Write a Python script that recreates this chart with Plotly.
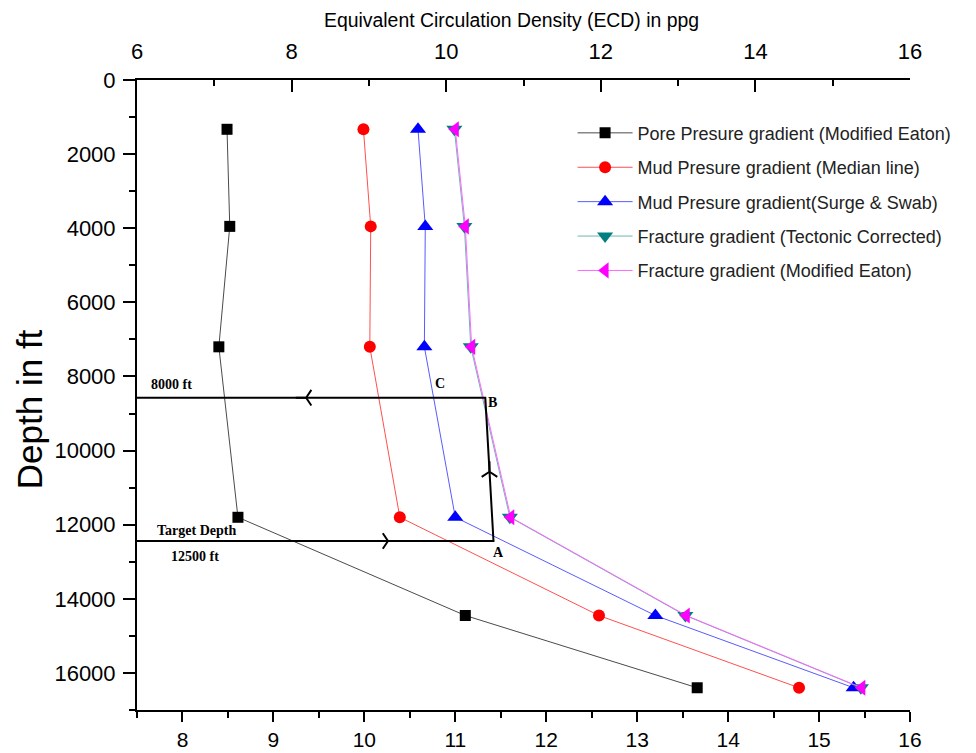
import plotly.graph_objects as go

# ---------------- data ----------------
depth_ft = [1330, 3950, 7200, 11800, 14450, 16400]
pore_modified_eaton = [8.49, 8.52, 8.40, 8.61, 11.11, 13.66]
mud_median_line = [9.99, 10.07, 10.06, 10.39, 12.58, 14.78]
mud_surge_swab = [10.59, 10.67, 10.66, 11.00, 13.20, 15.38]
frac_tectonic = [10.99, 11.10, 11.17, 11.60, 13.53, 15.46]
frac_modified_eaton = [11.00, 11.11, 11.18, 11.61, 13.54, 15.47]

series_names = [
    "Pore Presure gradient (Modified Eaton)",
    "Mud Presure gradient (Median line)",
    "Mud Presure gradient(Surge & Swab)",
    "Fracture gradient (Tectonic Corrected)",
    "Fracture gradient (Modified Eaton)",
]

# casing-design route A-B (drawn in ECD / depth units)
route_ppg = [7.5, 11.42, 11.33, 7.5]
route_depth = [12440, 12440, 8573, 8573]
route_arrow_ppg = [10.26, 11.376, 9.36]
route_arrow_depth = [12440, 10570, 8573]

bottom_ticks = [8, 9, 10, 11, 12, 13, 14, 15, 16]
top_ticks = [6, 8, 10, 12, 14, 16]
depth_ticks = [0, 2000, 4000, 6000, 8000, 10000, 12000, 14000, 16000]

# ---------------- figure ----------------
fig = go.Figure()

styles = [
    dict(symbol="square", mcolor="#000000", lcolor="#4a4a4a", size=11),
    dict(symbol="circle", mcolor="#ff0000", lcolor="#ff5050", size=12),
    dict(symbol="triangle-up", mcolor="#0000ff", lcolor="#5a5aff", size=14),
    dict(symbol="triangle-down", mcolor="#008080", lcolor="#6fb5b5", size=14),
    dict(symbol="triangle-left", mcolor="#ff00ff", lcolor="#ff66ff", size=14),
]
values = [pore_modified_eaton, mud_median_line, mud_surge_swab,
          frac_tectonic, frac_modified_eaton]

for i, (name, vals, st) in enumerate(zip(series_names, values, styles)):
    fig.add_trace(go.Scatter(
        x=vals, y=depth_ft, name=name, mode="lines+markers",
        line=dict(color=st["lcolor"], width=1),
        marker=dict(symbol=st["symbol"], color=st["mcolor"], size=st["size"],
                    line=dict(width=0)),
        legendgroup=f"g{i}",
        xaxis="x", yaxis="y",
    ))

# route lines
fig.add_trace(go.Scatter(
    x=route_ppg, y=route_depth, mode="lines",
    line=dict(color="black", width=2), showlegend=False, hoverinfo="skip",
))
fig.add_trace(go.Scatter(
    x=route_arrow_ppg, y=route_arrow_depth, mode="markers",
    marker=dict(symbol=["y-right", "y-up", "y-left"], size=13,
                color="black", line=dict(color="black", width=2)),
    showlegend=False, hoverinfo="skip",
))

# dummy trace to carry the top axis
fig.add_trace(go.Scatter(
    x=[top_ticks[0], top_ticks[-1]], y=[depth_ticks[0], depth_ticks[0]],
    xaxis="x2", yaxis="y", mode="markers", marker=dict(opacity=0),
    showlegend=False, hoverinfo="skip",
))

serif = dict(family="Liberation Serif, Times New Roman, serif", size=14, color="black")
ann = [
    dict(x=route_ppg[0], y=route_depth[3], text="<b>8000 ft</b>", xanchor="left",
         yanchor="bottom", xshift=12, yshift=4),
    dict(x=route_ppg[0], y=route_depth[0], text="<b>Target Depth</b>", xanchor="left",
         yanchor="bottom", xshift=18, yshift=1),
    dict(x=route_ppg[0], y=route_depth[0], text="<b>12500 ft</b>", xanchor="left",
         yanchor="top", xshift=32, yshift=-6),
    dict(x=route_ppg[1], y=route_depth[1], text="<b>A</b>", xanchor="center",
         yanchor="top", xshift=5, yshift=-2),
    dict(x=route_ppg[2], y=route_depth[2], text="<b>B</b>", xanchor="left",
         yanchor="middle", xshift=1, yshift=-5),
    dict(x=route_ppg[2], y=route_depth[2], text="<b>C</b>", xanchor="center",
         yanchor="bottom", xshift=-45, yshift=5),
]
annotations = []
for a in ann:
    a.update(xref="x", yref="y", showarrow=False, font=serif)
    annotations.append(a)

annotations.append(dict(
    xref="paper", yref="paper", x=0.485, y=1, yshift=60, yanchor="middle",
    text="Equivalent Circulation Density (ECD) in ppg", showarrow=False,
    font=dict(size=19.4, color="black"),
))
annotations.append(dict(
    xref="paper", yref="paper", x=-0.138, y=0.478, textangle=-90,
    xanchor="center", yanchor="middle",
    text="Depth in ft", showarrow=False, font=dict(size=35, color="black"),
))

axis_common = dict(showline=True, linecolor="black", linewidth=2, showgrid=False,
                   zeroline=False, tickcolor="black", tickwidth=2,
                   tickfont=dict(size=22, color="black"))

# page body has an 8 px margin, so the figure is drawn 8 px smaller
fig.update_layout(
    width=968, height=745,
    margin=dict(l=129, r=66, t=72, b=43, autoexpand=False),
    plot_bgcolor="white", paper_bgcolor="white",
    font=dict(family="Liberation Sans, Arial, sans-serif", color="black"),
    xaxis=dict(range=[7.5, 16], tickmode="array", tickvals=bottom_ticks,
               ticks="outside", ticklen=10, ticklabelstandoff=0,
               minor=dict(dtick=0.5, tick0=7.5, ticks="outside", ticklen=6,
                          tickwidth=2, tickcolor="black", showgrid=False),
               showline=True, linecolor="black", linewidth=2, showgrid=False,
               zeroline=False, tickcolor="black", tickwidth=2,
               tickfont=dict(size=21, color="black")),
    xaxis2=dict(range=[6, 16], overlaying="x", side="top", anchor="y",
                tickmode="array", tickvals=top_ticks, ticks="inside", ticklen=12,
                ticklabelstandoff=10,
                minor=dict(dtick=1, tick0=6, ticks="inside", ticklen=6,
                           tickwidth=2, tickcolor="black", showgrid=False),
                **axis_common),
    yaxis=dict(range=[17000, 0], tickmode="array", tickvals=depth_ticks,
               tickformat="d", ticklabelstandoff=3,
               ticks="outside", ticklen=12,
               minor=dict(dtick=1000, tick0=0, ticks="outside", ticklen=6,
                          tickwidth=2, tickcolor="black", showgrid=False),
               **axis_common),
    legend=dict(x=0.5635, y=0.945, xanchor="left", yanchor="top",
                bgcolor="rgba(0,0,0,0)", font=dict(size=18, color="#222"),
                traceorder="grouped", tracegroupgap=8, itemwidth=55),
    annotations=annotations,
    showlegend=True,
)

fig.write_html("out.html")
